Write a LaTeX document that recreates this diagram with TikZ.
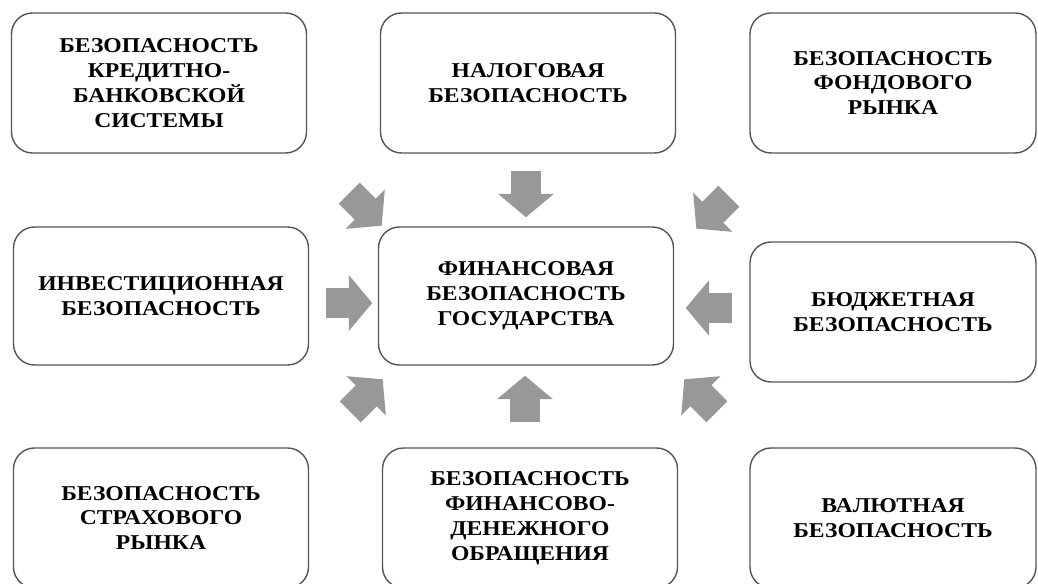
\documentclass[tikz,border=0pt]{standalone}
\usepackage{fontspec}
\setmainfont{Liberation Serif}[FakeStretch=1.12]
\usetikzlibrary{shapes.arrows}
\definecolor{boxline}{RGB}{85,85,85}
\definecolor{arrowgray}{RGB}{152,152,152}
\tikzset{>=latex}
\tikzset{
	secbox/.style={draw=boxline, line width=0.8pt, rounded corners=0.42cm, fill=white,
		minimum width=5.9cm, minimum height=2.8cm, align=center,
		font=\fontsize{12}{14.2}\selectfont\bfseries},
	blockarrow/.style={single arrow, fill=arrowgray, draw=none, inner xsep=0.2cm, inner ysep=0.29cm,
		minimum height=0.92cm, single arrow head extend=0.26cm, single arrow tip angle=100}
}

\begin{document}
\begin{tikzpicture}
		% Frame
		\useasboundingbox (0,0) rectangle (20.76,11.66);
		\clip (0,0) rectangle (20.76,11.66);

		% Boxes
		\node[secbox] (kredit) at (3.18,10.0) {БЕЗОПАСНОСТЬ\\КРЕДИТНО-\\БАНКОВСКОЙ\\СИСТЕМЫ};
		\node[secbox] (nalog) at (10.56,10.0) {НАЛОГОВАЯ\\БЕЗОПАСНОСТЬ};
		\node[secbox, minimum width=5.72cm] (fond) at (17.86,10.0) {БЕЗОПАСНОСТЬ\\ФОНДОВОГО\\РЫНКА};
		%
		\node[secbox, minimum height=2.76cm] (invest) at (3.22,5.74) {ИНВЕСТИЦИОННАЯ\\БЕЗОПАСНОСТЬ};
		\node[secbox, minimum height=2.76cm] (fin) at (10.52,5.74) {ФИНАНСОВАЯ\\БЕЗОПАСНОСТЬ\\ГОСУДАРСТВА};
		\node[secbox, minimum width=5.72cm] (budget) at (17.86,5.42) {БЮДЖЕТНАЯ\\БЕЗОПАСНОСТЬ};
		%
		\node[secbox] (strah) at (3.22,1.3) {БЕЗОПАСНОСТЬ\\СТРАХОВОГО\\РЫНКА};
		\node[secbox] (obrash) at (10.6,1.3) {БЕЗОПАСНОСТЬ\\ФИНАНСОВО-\\ДЕНЕЖНОГО\\ОБРАЩЕНИЯ};
		\node[secbox, minimum width=5.72cm] (valut) at (17.86,1.3) {ВАЛЮТНАЯ\\БЕЗОПАСНОСТЬ};

		% Arrows towards the centre
		\node[blockarrow, rotate=-90] (a1) at (10.52,7.9) {};
		\node[blockarrow, rotate=0] (a2) at (6.86,5.6) {};
		\node[blockarrow, rotate=180] (a3) at (14.3,5.5) {};
		\node[blockarrow, rotate=90] (a4) at (10.5,3.56) {};
		\node[blockarrow, rotate=-45] (a5) at (7.22,7.56) {};
		\node[blockarrow, rotate=-135] (a6) at (14.34,7.5) {};
		\node[blockarrow, rotate=45] (a7) at (7.24,3.66) {};
		\node[blockarrow, rotate=135] (a8) at (14.1,3.66) {};
	\end{tikzpicture}
\end{document}
